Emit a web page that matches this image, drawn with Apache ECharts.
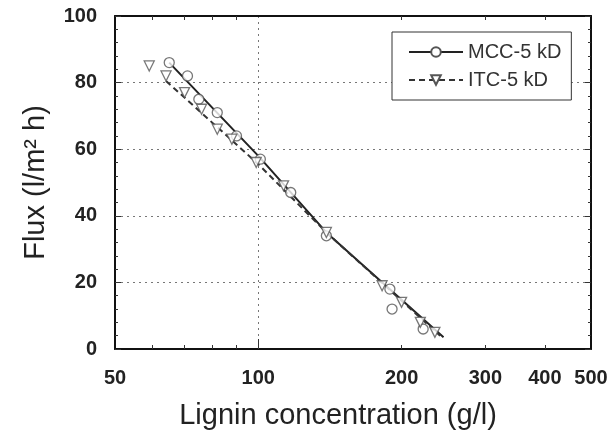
<!DOCTYPE html>
<html><head><meta charset="utf-8">
<script src="https://cdn.jsdelivr.net/npm/echarts@6/dist/echarts.min.js"></script>
<style>html,body{margin:0;padding:0;background:#fff}#c{width:615px;height:438px}</style>
</head><body><div id="c"></div>
<script>
const mccX=[65,71,75,82,90,101,117,139,189,191,222];
const mccY=[86,82,75,71,64,57,47,34,18,12,6];
const itcX=[59,64,70,76,82,88,99,113,139,182,200,219,235];
const itcY=[85,82,77,72,66,63,56,49,35,19,14,8,5];
const mccFitX=[65,100,139,245];
const mccFitY=[86,58,35,3.5];
const itcFitX=[64,100,139,241];
const itcFitY=[80.5,55.5,35,4];
const xTickLabels=[50,100,200,300,400,500];
const xMinorTicks=[60,70,80,90,200,300,400];
const xMajorTicks=[100];
const seriesNames=['MCC-5 kD','ITC-5 kD'];

const pairs=(xs,ys)=>xs.map((x,i)=>[x,ys[i]]);
const FONT="'Liberation Sans', Arial, sans-serif";
const axisLineStyle={color:'#111',width:2};
const ptStyle={color:'#fff',borderColor:'#555',borderWidth:1.3};

const chart=echarts.init(document.getElementById('c'),null,{renderer:'canvas'});
chart.setOption({
  animation:false,
  backgroundColor:'#fff',
  textStyle:{fontFamily:FONT},
  grid:{left:115,right:24,top:16,bottom:89,containLabel:false},
  legend:{
    data:seriesNames, orient:'vertical', left:392, top:32,
    padding:[10,10,10,16], itemGap:8, itemWidth:54, itemHeight:12,
    borderColor:'#333', borderWidth:1, backgroundColor:'#fff',
    textStyle:{fontFamily:FONT,fontSize:20,color:'#333'}
  },
  xAxis:[
    {type:'log',logBase:10,min:50,max:500,position:'bottom',
     axisLine:{show:true,lineStyle:axisLineStyle},
     axisTick:{show:true,inside:true,length:4,customValues:xMinorTicks,lineStyle:{color:'#333',width:1}},
     axisLabel:{customValues:xTickLabels,fontFamily:FONT,fontSize:20,fontWeight:'bold',color:'#222',margin:19},
     splitLine:{show:false},
     name:'Lignin concentration (g/l)',nameLocation:'middle',nameGap:52,
     nameTextStyle:{fontFamily:FONT,fontSize:29,color:'#222',padding:[0,30,0,0]}
    },
    {type:'log',logBase:10,min:50,max:500,position:'bottom',
     axisLine:{show:false},
     axisTick:{show:true,inside:true,length:10,customValues:xMajorTicks,lineStyle:{color:'#333',width:1}},
     axisLabel:{show:false},
     splitLine:{show:true,lineStyle:{color:'#777',width:1,type:[2,4]}}
    },
    {type:'log',logBase:10,min:50,max:500,position:'top',
     axisLine:{show:true,lineStyle:axisLineStyle},
     axisTick:{show:true,inside:true,length:4,customValues:xMinorTicks,lineStyle:{color:'#333',width:1}},
     axisLabel:{show:false},splitLine:{show:false}
    }
  ],
  yAxis:[
    {type:'value',min:0,max:100,interval:20,position:'left',
     axisLine:{show:true,lineStyle:axisLineStyle},
     axisTick:{show:true,inside:true,length:6,lineStyle:{color:'#333'}},
     minorTick:{show:true,splitNumber:5,length:3,lineStyle:{color:'#333'}},
     axisLabel:{fontFamily:FONT,fontSize:20,fontWeight:'bold',color:'#222',margin:18},
     splitLine:{show:true,lineStyle:{color:'#777',width:1,type:[2,4]}},
     name:'Flux (l/m² h)',nameLocation:'middle',nameGap:65,
     nameTextStyle:{fontFamily:FONT,fontSize:29,color:'#222'}
    },
    {type:'value',min:0,max:100,interval:20,position:'right',
     axisLine:{show:true,lineStyle:axisLineStyle},
     axisTick:{show:true,inside:true,length:6,lineStyle:{color:'#333'}},
     minorTick:{show:true,splitNumber:5,length:3,lineStyle:{color:'#333'}},
     axisLabel:{show:false},splitLine:{show:false}
    }
  ],
  series:[
    {name:seriesNames[0],type:'line',xAxisIndex:0,yAxisIndex:0,data:pairs(mccFitX,mccFitY),
     symbol:'circle',symbolSize:10,showSymbol:false,
     lineStyle:{color:'#222',width:2},itemStyle:ptStyle,z:3},
    {name:seriesNames[1],type:'line',xAxisIndex:0,yAxisIndex:0,data:pairs(itcFitX,itcFitY),
     symbol:'triangle',symbolRotate:180,symbolSize:10,showSymbol:false,
     lineStyle:{color:'#333',width:2,type:[6,4]},itemStyle:ptStyle,z:3},
    {name:'MCC points',type:'scatter',xAxisIndex:0,yAxisIndex:0,data:pairs(mccX,mccY),
     symbol:'circle',symbolSize:10,itemStyle:ptStyle,z:4},
    {name:'ITC points',type:'scatter',xAxisIndex:0,yAxisIndex:0,data:pairs(itcX,itcY),
     symbol:'triangle',symbolRotate:180,symbolSize:10,itemStyle:ptStyle,z:4}
  ]
});
</script></body></html>
